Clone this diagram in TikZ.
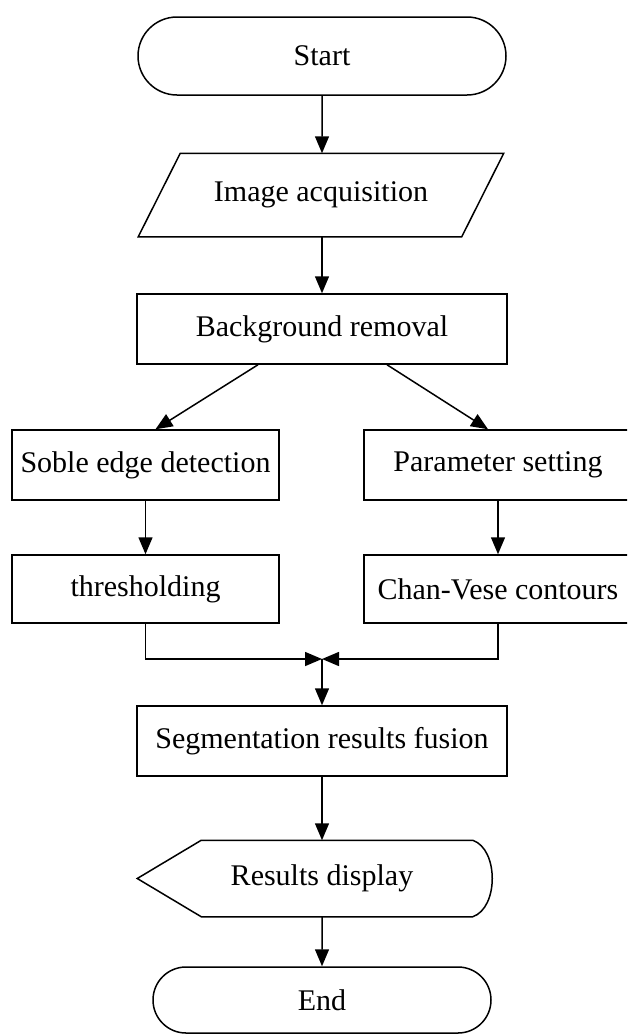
\documentclass[tikz,border=0pt]{standalone}
\usepackage{fontspec}
\setmainfont{Liberation Serif}
\usetikzlibrary{arrows.meta, shapes.misc}

\begin{document}
\begin{tikzpicture}[x=1pt, y=-1pt, >={Triangle[width=14pt,length=17pt]}, line width=1.5pt,
    every node/.style={font=\fontsize{30}{36}\selectfont},
    proc/.style={draw, rectangle, minimum height=70pt, inner sep=0pt},
    term/.style={draw, rounded rectangle, inner sep=0pt},
    bare/.style={rectangle, inner sep=0pt}]
    % page frame
    \clip (0,0) rectangle (627,1036);

    % main column
    \node[term, minimum width=368pt, minimum height=78pt] (start) at (322,56) {Start};
    \node[bare, minimum width=364pt, minimum height=82pt] (acq) at (321,195) {Image acquisition};
    \draw ([xshift=42pt]acq.north west) -- (acq.north east) -- ([xshift=-42pt]acq.south east)
      -- (acq.south west) -- cycle;
    \node[proc, minimum width=370pt] (bg) at (322,329) {Background removal};

    % two branches
    \node[proc, minimum width=267pt] (soble) at (145.5,465) {Soble edge detection};
    \node[proc, minimum width=268pt] (param) at (498,465) {Parameter setting};
    \node[proc, minimum width=267pt, minimum height=68pt] (thresh) at (145.5,589) {thresholding};
    \node[proc, minimum width=268pt, minimum height=68pt] (chan) at (498,589) {Chan-Vese contours};
    \coordinate (merge) at (322,659);

    % back to one column
    \node[proc, minimum width=370pt] (seg) at (322,741) {Segmentation results fusion};
    \node[bare, minimum width=368pt, minimum height=75pt] (disp) at (322,878.5) {Results display};
    \draw (disp.west) -- ([xshift=64pt]disp.north west) -- ([xshift=-34pt]disp.north east)
      .. controls ([xshift=-8pt,yshift=-9pt]disp.north east) and ([xshift=-8pt,yshift=9pt]disp.south east)
      .. ([xshift=-34pt]disp.south east) -- ([xshift=64pt]disp.south west) -- cycle;
    \node[term, minimum width=338pt, minimum height=66pt] (end) at (322,1000) {End};

    % arrows
    \draw[->] (start) -- (start |- acq.north);
    \draw[->] (start |- acq.south) -- (bg);
    \draw[->] ([xshift=-64pt]bg.south) -- ([xshift=10pt]soble.north);
    \draw[->] ([xshift=65pt]bg.south) -- ([xshift=-10pt]param.north);
    \draw[->] (soble) -- (thresh);
    \draw[->] (param) -- (chan);
    \draw[->] (thresh.south) |- (merge);
    \draw[->] (chan.south) |- (merge);
    \draw[->] (merge) -- (seg);
    \draw[->] (seg) -- (disp);
    \draw[->] (disp) -- (end);
\end{tikzpicture}
\end{document}
